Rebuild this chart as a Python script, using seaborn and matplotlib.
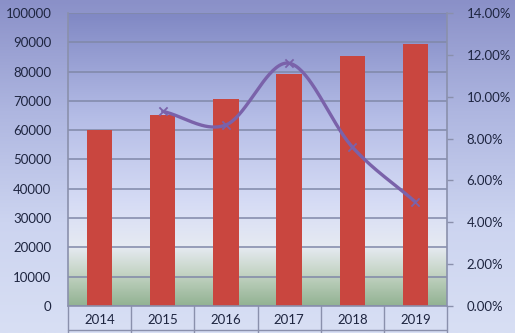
import numpy as np
import pandas as pd
import matplotlib
matplotlib.use("Agg")
import matplotlib.pyplot as plt
from matplotlib.colors import LinearSegmentedColormap
import seaborn as sns

# ---- data ----
years = ["2014", "2015", "2016", "2017", "2018", "2019"]
volume = [60000, 65300, 70800, 79300, 85200, 89500]
growth_years = ["2015", "2016", "2017", "2018", "2019"]
growth = [0.0930, 0.0865, 0.1160, 0.0760, 0.0497]
left_ticks = [0, 10000, 20000, 30000, 40000, 50000, 60000, 70000, 80000, 90000, 100000]
right_ticks = [0.0, 0.02, 0.04, 0.06, 0.08, 0.10, 0.12, 0.14]

sns.set_theme(style="white")
plt.rcParams["font.family"] = ["Lato", "DejaVu Sans"]
text_color = "#1E2540"

W, H = 515, 333
fig = plt.figure(figsize=(W / 100, H / 100), dpi=100)

# figure background gradient
bg = fig.add_axes([0, 0, 1, 1], zorder=-10)
bg_cmap = LinearSegmentedColormap.from_list(
    "bg", ["#8A90C8", "#AEB6E0", "#CCD4F0", "#D8DFF4"])
bg.imshow(np.linspace(0, 1, 256).reshape(-1, 1), cmap=bg_cmap, aspect="auto",
          extent=(0, 1, 0, 1), origin="upper")
bg.set_axis_off()

L, R, T, B = 68, 447, 13, 306
ax = fig.add_axes([L / W, 1 - B / H, (R - L) / W, (B - T) / H])
ax.set_facecolor("none")

df = pd.DataFrame({"year": years, "volume": volume})
sns.barplot(data=df, x="year", y="volume", color="#C9463F", saturation=1,
            width=0.4, ax=ax, zorder=3, linewidth=0, edgecolor="none")

ax.set_xlim(-0.5, len(years) - 0.5)
ax.set_ylim(0, 100000)

# plot-area gradient (top -> bottom)
pa_cmap = LinearSegmentedColormap.from_list(
    "pa", [(0.0, "#8088C4"), (0.35, "#B4BCE6"), (0.65, "#D6DCF5"),
           (0.80, "#E6EAF2"), (0.89, "#C4D4C4"), (1.0, "#92B292")])
ax.imshow(np.linspace(0, 1, 256).reshape(-1, 1), cmap=pa_cmap, aspect="auto",
          extent=(-0.5, len(years) - 0.5, 0, 100000), origin="upper", zorder=0)

ax.set_yticks(left_ticks)
ax.set_yticklabels([str(v) for v in left_ticks], color=text_color, fontsize=9.5)
ax.yaxis.grid(True, color="#8088A8", linewidth=1.1, zorder=1)
for gl in ax.get_ygridlines():
    gl.set_zorder(1)
ax.tick_params(axis="y", length=0, pad=12)
ax.tick_params(axis="x", length=0, pad=6)
ax.set_xticklabels(years, color=text_color, fontsize=9.5)
ax.set_xlabel("")
ax.set_ylabel("")
for s in ["top", "right", "bottom"]:
    ax.spines[s].set_visible(False)
ax.spines["left"].set_color("#8A90AC")
ax.spines["left"].set_linewidth(1.2)

# category table lines below axis
trans = ax.get_xaxis_transform()
for i in range(len(years) + 1):
    ax.plot([i - 0.5, i - 0.5], [0, -0.095], transform=trans, color="#8A90AC",
            lw=1.0, clip_on=False, zorder=5)
ax.plot([-0.5, len(years) - 0.5], [0, 0], transform=trans, color="#8A90AC",
        lw=1.2, clip_on=False, zorder=5)
ax.plot([-0.5, len(years) - 0.5], [-0.082, -0.082], transform=trans,
        color="#8A90AC", lw=1.0, clip_on=False, zorder=5)

# secondary axis with smoothed growth line
ax2 = ax.twinx()
ax2.set_ylim(0, 0.14)
ax2.set_yticks(right_ticks)
ax2.set_yticklabels([f"{v * 100:.2f}%" for v in right_ticks],
                    color=text_color, fontsize=9.5)
ax2.tick_params(axis="y", length=4, width=1, color="#8A90AC", pad=10, direction="out")
for s in ["top", "left", "bottom"]:
    ax2.spines[s].set_visible(False)
ax2.spines["right"].set_color("#8A90AC")
ax2.spines["right"].set_linewidth(1.2)
ax2.grid(False)

gx = np.array([years.index(y) for y in growth_years], dtype=float)
gy = np.array(growth)

def catmull_rom(x, y, n=40):
    px = np.concatenate([[2 * x[0] - x[1]], x, [2 * x[-1] - x[-2]]])
    py = np.concatenate([[2 * y[0] - y[1]], y, [2 * y[-1] - y[-2]]])
    xs, ys = [], []
    for i in range(1, len(px) - 2):
        t = np.linspace(0, 1, n)
        for arr, out in ((px, xs), (py, ys)):
            p0, p1, p2, p3 = arr[i - 1], arr[i], arr[i + 1], arr[i + 2]
            out.append(0.5 * ((2 * p1) + (-p0 + p2) * t
                              + (2 * p0 - 5 * p1 + 4 * p2 - p3) * t ** 2
                              + (-p0 + 3 * p1 - 3 * p2 + p3) * t ** 3))
    return np.concatenate(xs), np.concatenate(ys)

sx, sy = catmull_rom(gx, gy)
sns.lineplot(x=sx, y=sy, ax=ax2, color="#7A62AA", linewidth=2.4, sort=False,
             zorder=4)
sns.scatterplot(x=gx, y=gy, ax=ax2, marker="x", color="#7A62AA", s=35,
                linewidth=1.3, zorder=5)
ax2.set_xlim(-0.5, len(years) - 0.5)

fig.savefig("out.png", dpi=100)
